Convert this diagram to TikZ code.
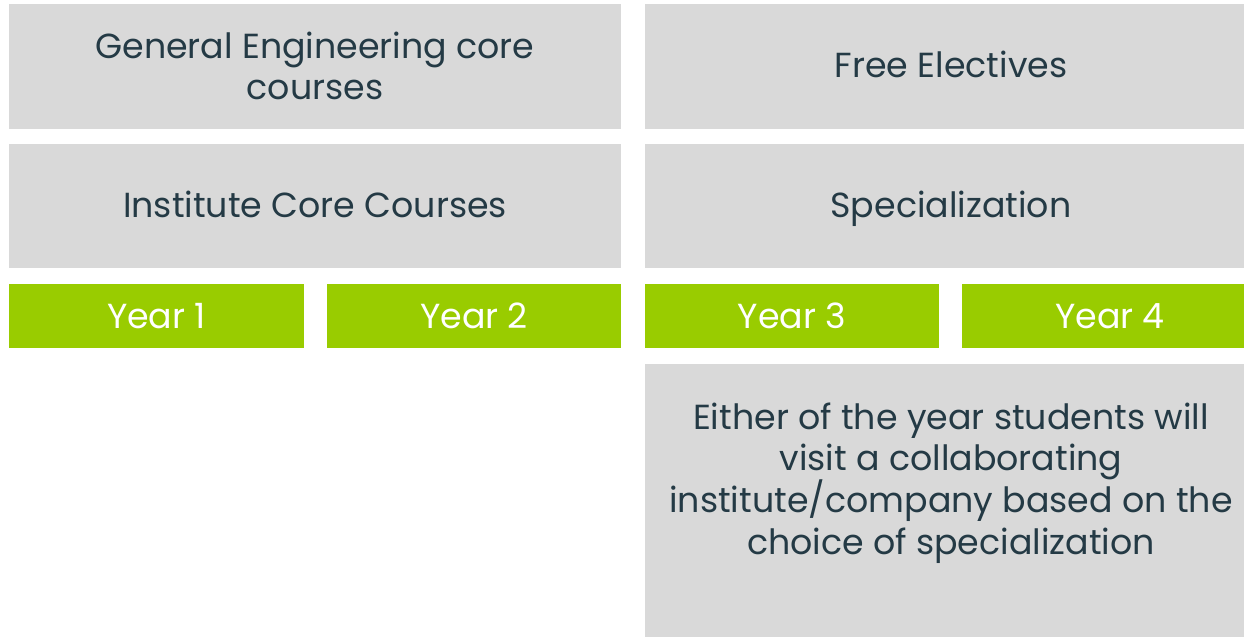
\documentclass[tikz,border=0pt]{standalone}
\usepackage{fontspec}
\setmainfont{Poppins}
\definecolor{boxgray}{HTML}{D9D9D9}
\definecolor{yeargreen}{HTML}{99CC00}
\definecolor{txt}{HTML}{243A45}
\newcommand{\lines}[1]{\vtop{\baselineskip=41.7pt\lineskiplimit=-100pt\lineskip=0pt\halign{\hfil##\hfil\cr#1\crcr}}}
\begin{document}
\begin{tikzpicture}[x=1pt,y=-1pt,
  graybox/.style={fill=boxgray,draw=none},
  yearbox/.style={fill=yeargreen,draw=none},
  lbl/.style={font=\fontsize{34.8}{41.7}\selectfont,text=txt,inner sep=0pt,anchor=base},
  ylbl/.style={font=\fontsize{34.8}{41.7}\selectfont,text=white,inner sep=0pt,anchor=base}]
\useasboundingbox (0,0) rectangle (1244,637);
\fill[graybox] (9,4) rectangle (621,129);
\fill[graybox] (645,4) rectangle (1244,129);
\fill[graybox] (9,144) rectangle (621,268);
\fill[graybox] (645,144) rectangle (1244,268);
\fill[yearbox] (9,284) rectangle (304,348);
\fill[yearbox] (327,284) rectangle (621,348);
\fill[yearbox] (645,284) rectangle (939,348);
\fill[yearbox] (962,284) rectangle (1244,348);
\fill[graybox] (645,364) rectangle (1244,637);
\node[lbl] (ge) at (315,58) {\lines{General Engineering core\cr courses}};
\node[lbl] (fe) at (951,77) {Free Electives};
\node[lbl] (ic) at (315,217) {Institute Core Courses};
\node[lbl] (sp) at (951,217) {Specialization};
\node[ylbl] (y1) at (156.5,328) {Year 1};
\node[ylbl] (y2) at (474,328) {Year 2};
\node[ylbl] (y3) at (792,328) {Year 3};
\node[ylbl] (y4) at (1110,328) {Year 4};
\node[lbl] (ex) at (951,429) {\lines{Either of the year students will\cr visit a collaborating\cr institute/company based on the\cr choice of specialization}};
\end{tikzpicture}
\end{document}
